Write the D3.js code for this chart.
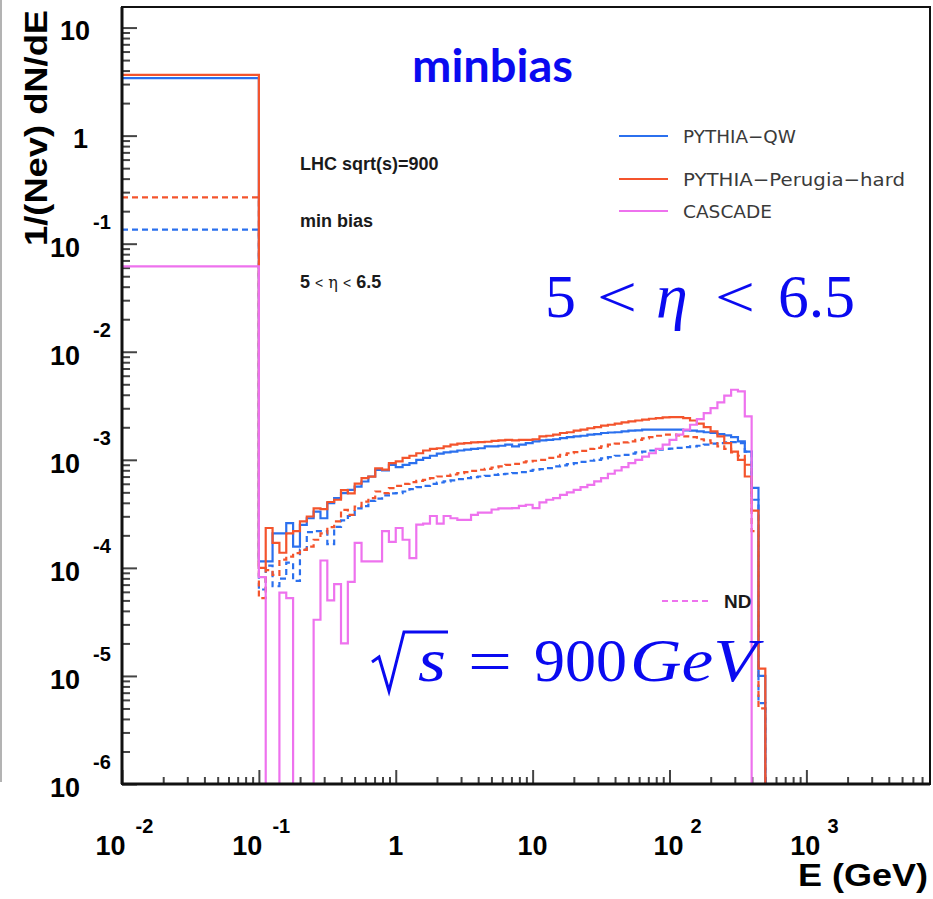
<!DOCTYPE html>
<html>
<head>
<meta charset="utf-8">
<script src="https://cdn.jsdelivr.net/npm/d3@7"></script>
<style>
  html, body { margin: 0; padding: 0; background: #fff; }
  svg { display: block; }
</style>
</head>
<body>
<svg id="chart" width="933" height="899"></svg>
<script>
// ---- Binning: one wide bin 0.01-0.1 GeV, then 20 log bins per decade from 0.1 GeV ----
const firstBinEdges = [0.01, 0.1];
const logBinStart = -1;      // log10(0.1)
const logBinStep = 0.05;     // 20 bins per decade
const nLogBins = 74;         // up to ~500 GeV

// ---- 1/(Nev) dN/dE per bin: [wide bin, log bins 0..73] ----
const qwAll = [3.40,
  1.15e-4, 1.15e-4, 2.09e-4, 2.09e-4, 2.59e-4, 1.57e-4, 2.50e-4, 2.88e-4, 3.32e-4, 2.88e-4,
  3.97e-4, 4.42e-4, 4.91e-4, 5.27e-4, 5.66e-4, 6.30e-4, 7.01e-4, 8.07e-4, 8.00e-4, 8.99e-4,
  8.55e-4, 8.99e-4, 9.31e-4, 1.00e-3, 1.04e-3, 1.09e-3, 1.14e-3, 1.17e-3, 1.19e-3, 1.22e-3,
  1.24e-3, 1.26e-3, 1.28e-3, 1.33e-3, 1.33e-3, 1.35e-3, 1.38e-3, 1.33e-3, 1.38e-3, 1.43e-3,
  1.48e-3, 1.51e-3, 1.53e-3, 1.55e-3, 1.59e-3, 1.62e-3, 1.65e-3, 1.67e-3, 1.71e-3, 1.73e-3,
  1.77e-3, 1.79e-3, 1.80e-3, 1.83e-3, 1.86e-3, 1.87e-3, 1.90e-3, 1.90e-3, 1.90e-3, 1.90e-3,
  1.90e-3, 1.90e-3, 1.87e-3, 1.86e-3, 1.83e-3, 1.80e-3, 1.77e-3, 1.73e-3, 1.68e-3, 1.62e-3,
  1.48e-3, 1.19e-3, 5.50e-4, 1.0e-5];

const perugiaAll = [3.65,
  1.00e-4, 2.34e-4, 1.70e-4, 1.38e-4, 2.09e-4, 2.19e-4, 2.69e-4, 2.99e-4, 3.55e-4, 3.50e-4,
  4.07e-4, 4.27e-4, 5.25e-4, 4.90e-4, 6.03e-4, 6.76e-4, 7.00e-4, 8.32e-4, 8.13e-4, 9.33e-4,
  9.66e-4, 1.04e-3, 1.09e-3, 1.15e-3, 1.22e-3, 1.26e-3, 1.28e-3, 1.33e-3, 1.38e-3, 1.41e-3,
  1.43e-3, 1.45e-3, 1.46e-3, 1.47e-3, 1.50e-3, 1.51e-3, 1.53e-3, 1.51e-3, 1.53e-3, 1.53e-3,
  1.55e-3, 1.65e-3, 1.67e-3, 1.71e-3, 1.77e-3, 1.80e-3, 1.86e-3, 1.90e-3, 1.96e-3, 2.01e-3,
  2.07e-3, 2.11e-3, 2.16e-3, 2.22e-3, 2.27e-3, 2.31e-3, 2.35e-3, 2.40e-3, 2.43e-3, 2.47e-3,
  2.48e-3, 2.48e-3, 2.43e-3, 2.31e-3, 2.16e-3, 2.01e-3, 1.83e-3, 1.65e-3, 1.43e-3, 1.19e-3,
  1.00e-3, 7.01e-4, 3.39e-4, 1.17e-5];

const perugiaND = [0.268,
  5.25e-5, 9.55e-5, 8.61e-5, 1.19e-4, 1.27e-4, 1.37e-4, 1.47e-4, 1.57e-4, 1.82e-4, 2.09e-4,
  2.38e-4, 2.69e-4, 3.44e-4, 3.10e-4, 3.70e-4, 4.11e-4, 4.42e-4, 5.09e-4, 4.91e-4, 5.46e-4,
  5.75e-4, 6.00e-4, 6.21e-4, 6.39e-4, 6.53e-4, 6.76e-4, 7.01e-4, 7.11e-4, 7.31e-4, 7.53e-4,
  7.69e-4, 7.91e-4, 8.09e-4, 8.26e-4, 8.49e-4, 8.69e-4, 8.99e-4, 9.18e-4, 9.46e-4, 9.66e-4,
  9.80e-4, 1.00e-3, 1.04e-3, 1.07e-3, 1.11e-3, 1.15e-3, 1.18e-3, 1.21e-3, 1.26e-3, 1.29e-3,
  1.33e-3, 1.38e-3, 1.41e-3, 1.45e-3, 1.48e-3, 1.53e-3, 1.58e-3, 1.62e-3, 1.67e-3, 1.71e-3,
  1.71e-3, 1.68e-3, 1.65e-3, 1.62e-3, 1.55e-3, 1.51e-3, 1.43e-3, 1.33e-3, 1.26e-3, 1.17e-3,
  1.09e-3, 9.0e-4, 2.19e-4, 5.0e-6];

const qwND = [0.135,
  6.31e-5, 1.05e-4, 6.76e-5, 7.94e-5, 1.12e-4, 7.59e-5, 1.48e-4, 2.14e-4, 2.19e-4, 2.19e-4,
  1.66e-4, 2.40e-4, 2.75e-4, 3.02e-4, 3.55e-4, 3.72e-4, 4.17e-4, 4.37e-4, 4.68e-4, 4.90e-4,
  4.92e-4, 5.09e-4, 5.36e-4, 5.58e-4, 5.75e-4, 6.00e-4, 6.17e-4, 6.31e-4, 6.44e-4, 6.62e-4,
  6.76e-4, 6.92e-4, 7.01e-4, 7.11e-4, 7.26e-4, 7.38e-4, 7.43e-4, 7.53e-4, 7.69e-4, 7.91e-4,
  8.09e-4, 8.20e-4, 8.37e-4, 8.69e-4, 8.87e-4, 9.12e-4, 9.31e-4, 9.59e-4, 9.80e-4, 1.00e-3,
  1.03e-3, 1.06e-3, 1.09e-3, 1.11e-3, 1.14e-3, 1.17e-3, 1.19e-3, 1.22e-3, 1.24e-3, 1.26e-3,
  1.27e-3, 1.29e-3, 1.31e-3, 1.33e-3, 1.35e-3, 1.38e-3, 1.41e-3, 1.43e-3, 1.45e-3, 1.46e-3,
  1.43e-3, 1.19e-3, 4.27e-4, 5.6e-6];

const cascadeAll = [0.0616,
  8.20e-5, 0, 0, 5.89e-5, 5.25e-5, 0, 0, 0, 3.31e-5, 1.17e-4,
  5.01e-5, 7.08e-5, 2.00e-5, 7.41e-5, 1.70e-4, 1.15e-4, 1.15e-4, 1.15e-4, 2.19e-4, 1.74e-4,
  2.34e-4, 1.82e-4, 1.23e-4, 2.51e-4, 2.57e-4, 3.02e-4, 2.57e-4, 3.02e-4, 2.88e-4, 2.78e-4,
  2.78e-4, 3.09e-4, 3.24e-4, 3.24e-4, 3.47e-4, 3.55e-4, 3.55e-4, 3.57e-4, 3.75e-4, 3.84e-4,
  3.57e-4, 4.03e-4, 4.27e-4, 4.42e-4, 4.74e-4, 4.99e-4, 5.27e-4, 5.58e-4, 5.87e-4, 6.31e-4,
  6.76e-4, 7.43e-4, 7.96e-4, 8.55e-4, 9.31e-4, 1.00e-3, 1.07e-3, 1.15e-3, 1.26e-3, 1.38e-3,
  1.53e-3, 1.71e-3, 1.90e-3, 2.11e-3, 2.38e-3, 2.70e-3, 3.01e-3, 3.40e-3, 3.92e-3, 4.45e-3,
  4.30e-3, 2.52e-3, 0, 0];

// ---- Axis ticks ----
const xMajorExps = [-2, -1, 0, 1, 2, 3];
const yMajorExps = [-6, -5, -4, -3, -2, -1, 0, 1];

// ---- Legend ----
const legendNames = ["PYTHIA\u2212QW", "PYTHIA\u2212Perugia\u2212hard", "CASCADE"];
const colBlue = "#2b70ee", colRed = "#f4542c", colPink = "#ee72ee";

// ---------------------------------------------------------------------------
const svg = d3.select("#chart");
const L = 122, R = 930, T = 7, B = 784;

const x = d3.scaleLog().domain([0.01, 8000]).range([L, R]);
const y = d3.scaleLog().domain([1e-6, 15.5]).range([B, T]);

const edges = [firstBinEdges[0]].concat(
  d3.range(nLogBins + 1).map(k => Math.pow(10, logBinStart + k * logBinStep)));

function stepPoints(vals) {
  const pts = [];
  vals.forEach((v, i) => {
    const yy = v > 0 ? y(Math.max(v, 1e-6)) : B;
    pts.push([x(edges[i]), yy], [x(edges[i + 1]), yy]);
  });
  pts.push([x(edges[vals.length]), B]);
  return pts;
}
const line = d3.line();

// thin border on the far left of the figure
svg.append("line").attr("x1", 1).attr("x2", 1).attr("y1", 0).attr("y2", 782)
  .attr("stroke", "#9a9a9a").attr("stroke-width", 1.5);

// minor tick values
function minorTicks(lo, hi) {
  const out = [];
  for (let e = Math.floor(Math.log10(lo)); e <= Math.ceil(Math.log10(hi)); e++) {
    for (let d = 2; d <= 9; d++) {
      const v = d * Math.pow(10, e);
      if (v > lo && v < hi) out.push(v);
    }
  }
  return out;
}

const gx = svg.append("g");
gx.append("g").attr("transform", `translate(0,${B})`)
  .call(d3.axisBottom(x).tickValues(minorTicks(0.01, 8000)).tickSize(-7).tickFormat(""));
gx.append("g").attr("transform", `translate(0,${B})`)
  .call(d3.axisBottom(x).tickValues(xMajorExps.map(e => Math.pow(10, e))).tickSize(-14).tickFormat(""));
const gy = svg.append("g");
gy.append("g").attr("transform", `translate(${L},0)`)
  .call(d3.axisLeft(y).tickValues(minorTicks(1e-6, 15.5)).tickSize(-8).tickFormat(""));
gy.append("g").attr("transform", `translate(${L},0)`)
  .call(d3.axisLeft(y).tickValues(yMajorExps.map(e => Math.pow(10, e))).tickSize(-15).tickFormat(""));
svg.selectAll(".domain").remove();
svg.selectAll(".tick line").attr("stroke", "#444").attr("stroke-width", 2);

// histograms
const series = [
  { vals: qwND, color: colBlue, dash: "6,4" },
  { vals: perugiaND, color: colRed, dash: "6,4" },
  { vals: qwAll, color: colBlue, dash: null },
  { vals: perugiaAll, color: colRed, dash: null },
  { vals: cascadeAll, color: colPink, dash: null }
];
series.forEach(s => {
  svg.append("path")
    .attr("d", line(stepPoints(s.vals)))
    .attr("fill", "none")
    .attr("stroke", s.color)
    .attr("stroke-width", 2.2)
    .attr("stroke-dasharray", s.dash)
    .attr("stroke-linejoin", "miter");
});

// frame
svg.append("rect").attr("x", L).attr("y", T).attr("width", R - L).attr("height", B - T)
  .attr("fill", "none").attr("stroke", "#111").attr("stroke-width", 2);
svg.append("line").attr("x1", L).attr("x2", R).attr("y1", B).attr("y2", B)
  .attr("stroke", "#111").attr("stroke-width", 3);
svg.append("line").attr("x1", L).attr("x2", L).attr("y1", T).attr("y2", B)
  .attr("stroke", "#111").attr("stroke-width", 3);

const axisFont = "'Liberation Sans', Arial, Helvetica, sans-serif";

// x tick labels
xMajorExps.forEach(e => {
  const px = x(Math.pow(10, e));
  if (e === 0 || e === 1) {
    svg.append("text").attr("x", px).attr("y", 855).attr("text-anchor", "middle")
      .attr("font-family", axisFont).attr("font-weight", "bold").attr("font-size", 27)
      .text(e === 0 ? "1" : "10");
  } else {
    const r = e < 0 ? 3.5 : 14;
    const gap = e < 0 ? 10 : 7;
    svg.append("text").attr("x", px + r).attr("y", 855).attr("text-anchor", "end")
      .attr("font-family", axisFont).attr("font-weight", "bold").attr("font-size", 27).text("10");
    svg.append("text").attr("x", px + r + gap).attr("y", 833).attr("text-anchor", "start")
      .attr("font-family", axisFont).attr("font-weight", "bold").attr("font-size", 20).text(String(e));
  }
});

// y tick labels
yMajorExps.forEach(e => {
  const py = y(Math.pow(10, e));
  if (e === 0 || e === 1) {
    svg.append("text").attr("x", e === 0 ? 88 : 90).attr("y", py + 12).attr("text-anchor", "end")
      .attr("font-family", axisFont).attr("font-weight", "bold").attr("font-size", 27)
      .text(e === 0 ? "1" : "10");
  } else {
    svg.append("text").attr("x", 80).attr("y", py + 13).attr("text-anchor", "end")
      .attr("font-family", axisFont).attr("font-weight", "bold").attr("font-size", 27).text("10");
    svg.append("text").attr("x", 93).attr("y", py - 15).attr("text-anchor", "start")
      .attr("font-family", axisFont).attr("font-weight", "bold").attr("font-size", 20).text(String(e));
  }
});

// axis titles
svg.append("text").attr("transform", "translate(47,10) rotate(-90)")
  .attr("text-anchor", "end").attr("font-family", axisFont).attr("font-weight", "bold")
  .attr("font-size", 31).attr("textLength", 236).attr("lengthAdjust", "spacingAndGlyphs")
  .text("1/(Nev) dN/dE");
svg.append("text").attr("x", 798).attr("y", 886)
  .attr("font-family", axisFont).attr("font-weight", "bold")
  .attr("font-size", 32).attr("textLength", 130).attr("lengthAdjust", "spacingAndGlyphs")
  .text("E (GeV)");

// info text
const info = [
  { t: "LHC sqrt(s)=900", y: 170 },
  { t: "min bias", y: 227 }
];
info.forEach(d => {
  svg.append("text").attr("x", 300).attr("y", d.y).attr("font-family", axisFont)
    .attr("font-weight", "bold").attr("font-size", 18).attr("fill", "#1a1a1a").text(d.t);
});
const etaTxt = svg.append("text").attr("x", 300).attr("y", 288).attr("font-family", axisFont)
  .attr("font-weight", "bold").attr("font-size", 18).attr("fill", "#1a1a1a");
etaTxt.append("tspan").text("5 ");
etaTxt.append("tspan").attr("font-weight", "normal").attr("font-size", 14).text("<");
etaTxt.append("tspan").attr("font-weight", "normal").attr("font-family", "'DejaVu Serif', serif")
  .attr("font-size", 16).text(" \u03b7 ");
etaTxt.append("tspan").attr("font-weight", "normal").attr("font-size", 14).text("<");
etaTxt.append("tspan").text(" 6.5");

// legend
const legY = [136, 179, 211];
const legCol = [colBlue, colRed, colPink];
const legW = [113, 222, 89];
legendNames.forEach((n, i) => {
  svg.append("line").attr("x1", 619).attr("x2", 668).attr("y1", legY[i]).attr("y2", legY[i])
    .attr("stroke", legCol[i]).attr("stroke-width", 2);
  svg.append("text").attr("x", 683).attr("y", legY[i] + 7)
    .attr("font-family", "'DejaVu Sans', sans-serif").attr("font-size", 18.5)
    .attr("fill", "#3a3a3a").attr("textLength", legW[i]).attr("lengthAdjust", "spacingAndGlyphs")
    .text(n);
});
svg.append("line").attr("x1", 662).attr("x2", 710).attr("y1", 601).attr("y2", 601)
  .attr("stroke", colPink).attr("stroke-width", 2.2).attr("stroke-dasharray", "6,4");
svg.append("text").attr("x", 724).attr("y", 608).attr("font-family", axisFont)
  .attr("font-weight", "bold").attr("font-size", 19).attr("fill", "#1a1a1a").text("ND");

// blue annotations
const annBlue = "#0a0af0";
svg.append("text").attr("x", 412).attr("y", 82)
  .attr("font-family", "Lato, 'Open Sans', sans-serif").attr("font-weight", "bold")
  .attr("font-size", 46).attr("fill", annBlue).attr("textLength", 161)
  .attr("lengthAdjust", "spacingAndGlyphs").text("minbias");

const serif = "'Liberation Serif', 'Times New Roman', serif";
function mathText(x0, y0, t, opts) {
  const o = Object.assign({ italic: false, size: 62, len: null }, opts || {});
  const el = svg.append("text").attr("x", x0).attr("y", y0).attr("font-family", serif)
    .attr("font-size", o.size).attr("fill", annBlue)
    .attr("font-style", o.italic ? "italic" : "normal").text(t);
  if (o.len) el.attr("textLength", o.len).attr("lengthAdjust", "spacingAndGlyphs");
  return el;
}
// 5 < eta < 6.5
mathText(545, 317, "5");
mathText(597, 317, "<", { len: 40, size: 60 });
mathText(656, 317, "\u03b7", { italic: true, size: 64 });
mathText(715, 317, "<", { len: 40, size: 60 });
mathText(778, 317, "6.5", { len: 77 });
// sqrt(s) = 900 GeV
svg.append("path").attr("d", "M372,662 L379,657 L389,691 L404,632 L448,632")
  .attr("fill", "none").attr("stroke", annBlue).attr("stroke-width", 3)
  .attr("stroke-linejoin", "miter");
mathText(418, 681, "s", { italic: true, len: 28 });
mathText(468, 681, "=", { len: 44, size: 60 });
mathText(534, 681, "900", { len: 93 });
mathText(630, 681, "GeV", { italic: true, len: 127 });
</script>
</body>
</html>
